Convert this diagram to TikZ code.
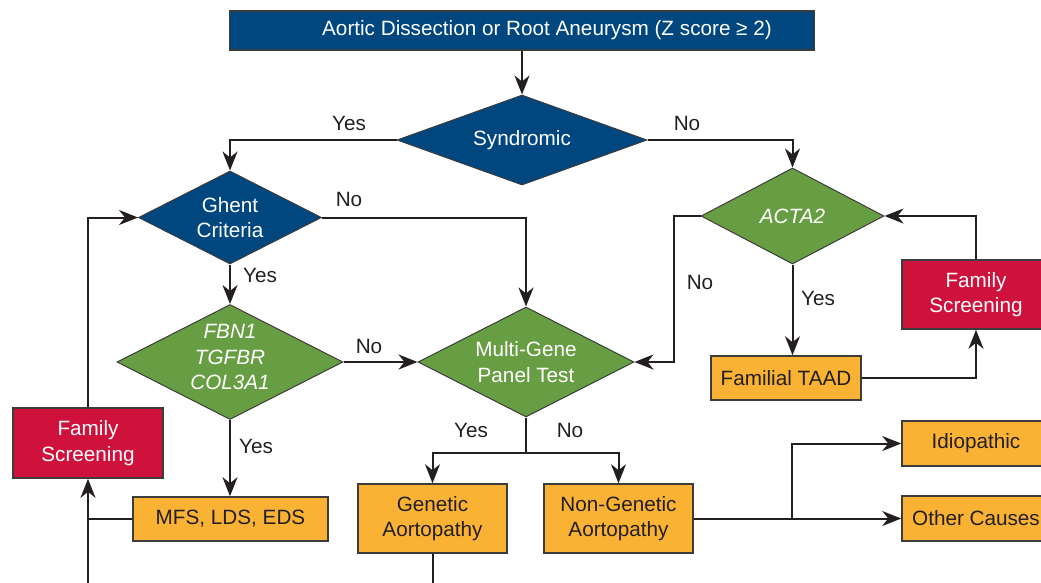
\documentclass[tikz,border=0pt]{standalone}
\usepackage{fontspec}
\setmainfont{Liberation Sans}
\usetikzlibrary{shapes.geometric,arrows.meta}
\definecolor{dblue}{RGB}{0,70,127}
\definecolor{dgreen}{RGB}{104,158,67}
\definecolor{dred}{RGB}{206,18,60}
\definecolor{dorange}{RGB}{250,178,52}
\definecolor{ink}{RGB}{35,31,32}
\definecolor{boxline}{RGB}{60,60,60}
\begin{document}
\begin{tikzpicture}[x=1pt,y=-1pt,
  font=\fontsize{20.7}{25.5}\selectfont,
  box/.style={draw=boxline, line width=1.6pt, inner sep=0pt, align=center, text=ink},
  obox/.style={box, fill=dorange},
  rbox/.style={box, fill=dred, text=white},
  bbox/.style={box, fill=dblue, text=white},
  dia/.style={diamond, draw=boxline, line width=1pt, inner sep=0pt},
  bdia/.style={dia, fill=dblue},
  gdia/.style={dia, fill=dgreen},
  dtext/.style={text=white, align=center},
  conn/.style={draw=ink, line width=2pt},
  arr/.style={conn, -{Stealth[length=19pt,width=15pt,inset=6pt]}},
  lbl/.style={text=ink}]
\useasboundingbox (0,0) rectangle (1041,582);

% boxes
\node[bbox, minimum width=585pt, minimum height=39pt] (top) at (522,30.5)
  {\hspace*{50pt}Aortic Dissection or Root Aneurysm (Z score ≥ 2)};
\node[obox, minimum width=195pt, minimum height=44pt] (mfs) at (230.5,519) {MFS, LDS, EDS};
\node[rbox, minimum width=150pt, minimum height=70pt] (fsl) at (88,443) {Family\\Screening};
\node[obox, minimum width=149pt, minimum height=69pt] (gen) at (432.5,518.5) {Genetic\\Aortopathy};
\node[obox, minimum width=149pt, minimum height=69pt] (ngen) at (618.5,518.5) {Non-Genetic\\Aortopathy};
\node[obox, minimum width=150pt, minimum height=44pt] (taad) at (786,378) {Familial TAAD};
\node[rbox, minimum width=148pt, minimum height=69pt] (fsr) at (976,294.5) {Family\\Screening};
\node[obox, minimum width=148pt, minimum height=45pt] (idio) at (976,443.5) {Idiopathic};
\node[obox, minimum width=148pt, minimum height=45pt] (other) at (976,518.5) {Other Causes};

% diamonds
\node[bdia, minimum width=250pt, minimum height=90pt,
  label={[dtext]center:Syndromic}] (syn) at (522,140) {};
\node[bdia, minimum width=183pt, minimum height=93pt,
  label={[dtext]center:Ghent\\Criteria}] (ghent) at (230,217.5) {};
\node[gdia, minimum width=183pt, minimum height=96pt,
  label={[dtext]center:\itshape ACTA2}] (acta) at (792.5,216) {};
\node[gdia, minimum width=226pt, minimum height=115pt,
  label={[dtext, yshift=5pt]center:\itshape FBN1\\\itshape TGFBR\\\itshape COL3A1}] (fbn) at (230,362) {};
\node[gdia, minimum width=216pt, minimum height=110pt,
  label={[dtext]center:Multi-Gene\\Panel Test}] (mgp) at (526,362) {};

% connectors
\draw[arr] (top.south) -- (syn.north);
\draw[arr] (syn.west) -| (ghent.north);
\draw[arr] (syn.east) -| (acta.north);
\draw[arr] (ghent.east) -| (mgp.north);
\draw[arr] (ghent.south) -- (fbn.north);
\draw[arr] (fbn.east) -- (mgp.west);
\draw[arr] (fbn.south) -- (mfs.north -| fbn.south);
\draw[conn] (mfs.west) -- (mfs.west -| fsl.south);
\coordinate (lbot) at (88,584);
\draw[arr] (lbot) -- (fsl.south);
\draw[arr] (fsl.north) |- (ghent.west);
\coordinate (split) at (526,453);
\draw[conn] (mgp.south) -- (split);
\draw[arr] (split) -| (gen.north);
\draw[arr] (split) -| (ngen.north);
\coordinate (gbot) at (432.5,584);
\draw[conn] (gen.south) -- (gbot);
\draw[arr] (ngen.east) -- (other.west);
\coordinate (fork) at (792,518.5);
\draw[arr] (fork) |- (idio.west);
\coordinate (abend) at (674,216);
\draw[arr] (acta.west) -- (abend) |- (mgp.east);
\draw[arr] (acta.south) -- (acta.south |- taad.north);
\draw[arr] (taad.east) -| (fsr.south);
\draw[arr] (fsr.north) |- (acta.east);

% labels
\node[lbl] (l1) at (349,123) {Yes};
\node[lbl] (l2) at (687,123) {No};
\node[lbl] (l3) at (349,199) {No};
\node[lbl] (l4) at (260,275) {Yes};
\node[lbl] (l5) at (369,346) {No};
\node[lbl] (l6) at (256,446) {Yes};
\node[lbl] (l7) at (471,430) {Yes};
\node[lbl] (l8) at (570,430) {No};
\node[lbl] (l9) at (700,282) {No};
\node[lbl] (l10) at (818,298) {Yes};
\end{tikzpicture}
\end{document}
